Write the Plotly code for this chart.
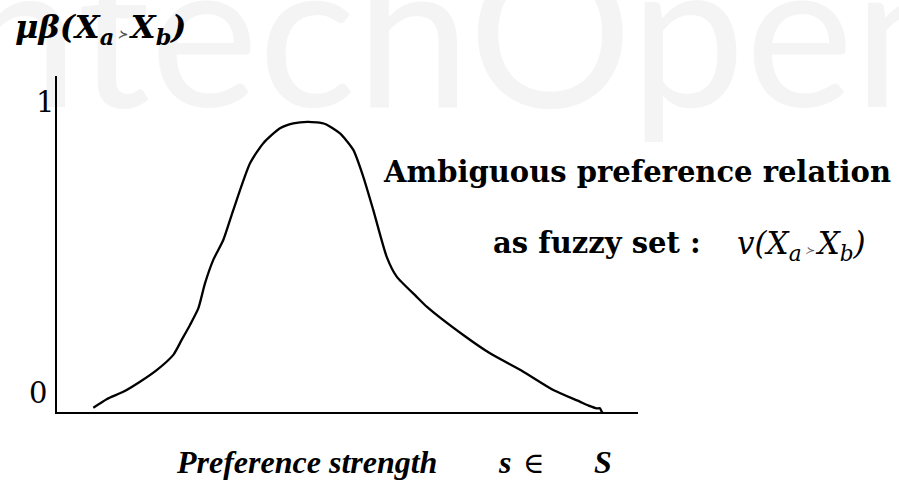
import plotly.graph_objects as go

# Membership curve (s, mu)
s_vals = [0.625, 0.855, 1.141, 1.429, 1.716, 2.002, 2.146, 2.289, 2.432, 2.547, 2.690,
          2.862, 3.034, 3.322, 3.551, 3.838, 4.067, 4.325, 4.613, 4.871, 5.100, 5.272,
          5.444, 5.675, 5.847, 6.191, 6.363, 6.993, 7.453, 8.026, 8.542, 8.997, 9.150,
          9.290, 9.345, 9.375, 9.403]
mu_vals = [0.014, 0.042, 0.066, 0.099, 0.137, 0.187, 0.236, 0.285, 0.339, 0.421, 0.498,
           0.563, 0.661, 0.814, 0.880, 0.929, 0.945, 0.950, 0.943, 0.912, 0.858, 0.770,
           0.661, 0.508, 0.443, 0.377, 0.345, 0.252, 0.192, 0.132, 0.072, 0.034, 0.021,
           0.012, 0.012, 0.001, -0.006]

y_labels = ["0", "1"]
watermark = "IntechOpen"

SERIF = "DejaVu Serif, serif"
TIMES = "Liberation Serif, serif"
PREC = "<span style='font-size:11px;color:#555'> ≻ </span>"

W, H = 899, 491
L, R, T, B = 57, 638, 76, 412

def px(x):
    return x / W

def py(y):
    return 1 - y / H

fig = go.Figure()
# faint watermark on a hidden full-page subplot, drawn underneath the chart
fig.add_trace(go.Scatter(x=[438], y=[56], mode="text", text=[watermark],
                         textposition="middle center", cliponaxis=False,
                         textfont=dict(size=205, color="#f4f4f4", family="Lato, sans-serif"),
                         hoverinfo="skip", showlegend=False, xaxis="x", yaxis="y"))
fig.add_trace(go.Scatter(x=s_vals, y=mu_vals, mode="lines",
                         line=dict(color="black", width=2.3, shape="spline", smoothing=0.6),
                         hoverinfo="skip", showlegend=False, xaxis="x2", yaxis="y2"))

annos = [
    dict(text=f"<b><i>μβ(X<sub>a</sub>{PREC}X<sub>b</sub>)</i></b>",
         x=px(100), y=py(29), font=dict(size=32, color="black", family=SERIF)),
    dict(text=y_labels[1], x=px(45), y=py(102), font=dict(size=29, color="black", family=SERIF)),
    dict(text=y_labels[0], x=px(38), y=py(393), font=dict(size=29, color="black", family=SERIF)),
    dict(text="<b>Ambiguous preference relation</b>", x=px(637), y=py(172),
         font=dict(size=29, color="black", family=SERIF)),
    dict(text="<b>as fuzzy set :</b>", x=px(597), y=py(243),
         font=dict(size=29, color="black", family=SERIF)),
    dict(text=f"<i>v(X<sub>a</sub>{PREC}X<sub>b</sub>)</i>", x=px(801), y=py(245),
         font=dict(size=31, color="black", family=SERIF)),
    dict(text="<b><i>Preference strength</i></b>", x=px(306), y=py(462),
         font=dict(size=32, color="black", family=TIMES)),
    dict(text="<b><i>s</i></b>", x=px(504), y=py(462),
         font=dict(size=32, color="black", family=TIMES)),
    dict(text="∈", x=px(533), y=py(463),
         font=dict(size=29, color="black", family=SERIF)),
    dict(text="<b><i>S</i></b>", x=px(603), y=py(462),
         font=dict(size=32, color="black", family=TIMES)),
]
for a in annos:
    fig.add_annotation(xref="paper", yref="paper", showarrow=False,
                       xanchor="center", yanchor="middle", **a)

fig.update_layout(
    width=W, height=H, paper_bgcolor="white", plot_bgcolor="rgba(0,0,0,0)",
    margin=dict(l=0, r=0, t=0, b=0),
    xaxis=dict(domain=[0, 1], range=[0, W], visible=False, fixedrange=True),
    yaxis=dict(domain=[0, 1], range=[H, 0], visible=False, fixedrange=True),
    xaxis2=dict(domain=[L / W, R / W], anchor="y2", range=[0, 10], showgrid=False,
                zeroline=False, showticklabels=False, ticks="", showline=True,
                linecolor="black", linewidth=2),
    yaxis2=dict(domain=[(H - B) / H, (H - T) / H], anchor="x2", range=[0, 1.1],
                showgrid=False, zeroline=False, showticklabels=False, ticks="",
                showline=True, linecolor="black", linewidth=2),
)

fig.write_html("out.html", config={"displayModeBar": False},
               post_script="document.body.style.margin='0';")
